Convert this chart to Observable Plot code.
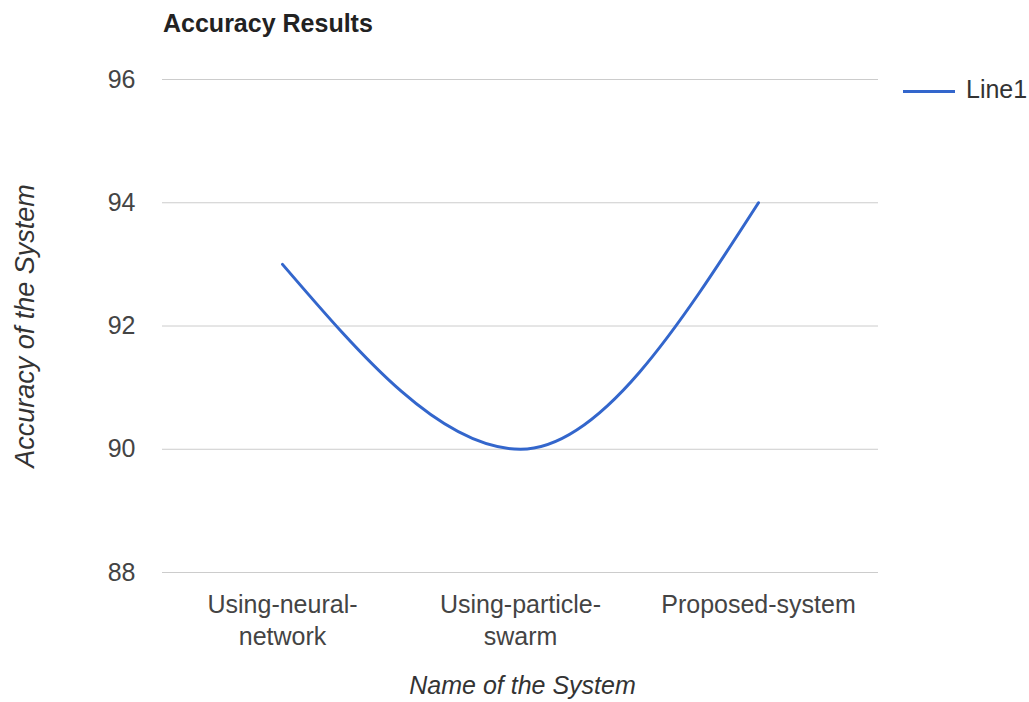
<!DOCTYPE html>
<html>
<head>
<meta charset="utf-8">
<script src="https://cdn.jsdelivr.net/npm/d3@7"></script>
<script src="https://cdn.jsdelivr.net/npm/@observablehq/plot@0.6"></script>
<style>
  html, body { margin: 0; padding: 0; background: #fff; }
  #wrap { position: relative; width: 1029px; height: 702px; font-family: Arial, "Liberation Sans", sans-serif; }
  #title { position: absolute; left: 163px; top: 11px; font-size: 25px; line-height: 25px; font-weight: bold; color: #222; }
  #legend-sw { position: absolute; left: 903px; top: 90px; width: 52px; height: 3px; background: #3366cc; }
  #legend-tx { position: absolute; left: 966px; top: 77px; font-size: 25px; line-height: 25px; color: #333; }
  svg { position: absolute; left: 0; top: 0; }
</style>
</head>
<body>
<div id="wrap">
  <div id="title">Accuracy Results</div>
  <div id="legend-sw"></div>
  <div id="legend-tx">Line1</div>
</div>
<script>
const categories = ["Using-neural-network", "Using-particle-swarm", "Proposed-system"];
const tickLabels = ["Using-neural-\nnetwork", "Using-particle-\nswarm", "Proposed-system"];
const values = [93, 90, 94];
const yTicks = [88, 90, 92, 94, 96];

const data = categories.map((c, i) => ({name: c, value: values[i]}));
const labelOf = new Map(categories.map((c, i) => [c, tickLabels[i]]));

const chart = Plot.plot({
  width: 1029,
  height: 702,
  marginLeft: 162,
  marginRight: 151,
  marginTop: 79,
  marginBottom: 130,
  style: {fontFamily: "Arial, 'Liberation Sans', sans-serif", background: "#fff"},
  x: {type: "point", domain: categories, padding: 0.5},
  y: {domain: [88, 96]},
  marks: [
    Plot.gridY(yTicks, {stroke: "#cccccc", strokeOpacity: 1, strokeWidth: 1}),
    Plot.axisY(yTicks, {tickSize: 0, tickPadding: 27, fontSize: 25, fill: "#444", tickFormat: d => String(d), label: null}),
    Plot.axisX({tickSize: 0, tickPadding: 18, fontSize: 25, fill: "#444", lineHeight: 1.28, tickFormat: d => labelOf.get(d), label: null}),
    Plot.text(["Name of the System"], {frameAnchor: "bottom", lineAnchor: "middle", dx: 2, dy: 113, fontSize: 25, fontStyle: "italic", fill: "#333"}),
    Plot.text(["Accuracy of the System"], {frameAnchor: "left", lineAnchor: "middle", dx: -137, rotate: -90, textAnchor: "middle", fontSize: 27, fontStyle: "italic", fill: "#333"}),
    Plot.line(data, {x: "name", y: "value", stroke: "#3366cc", strokeWidth: 3, curve: "monotone-x"})
  ]
});
document.getElementById("wrap").prepend(chart);
</script>
</body>
</html>
